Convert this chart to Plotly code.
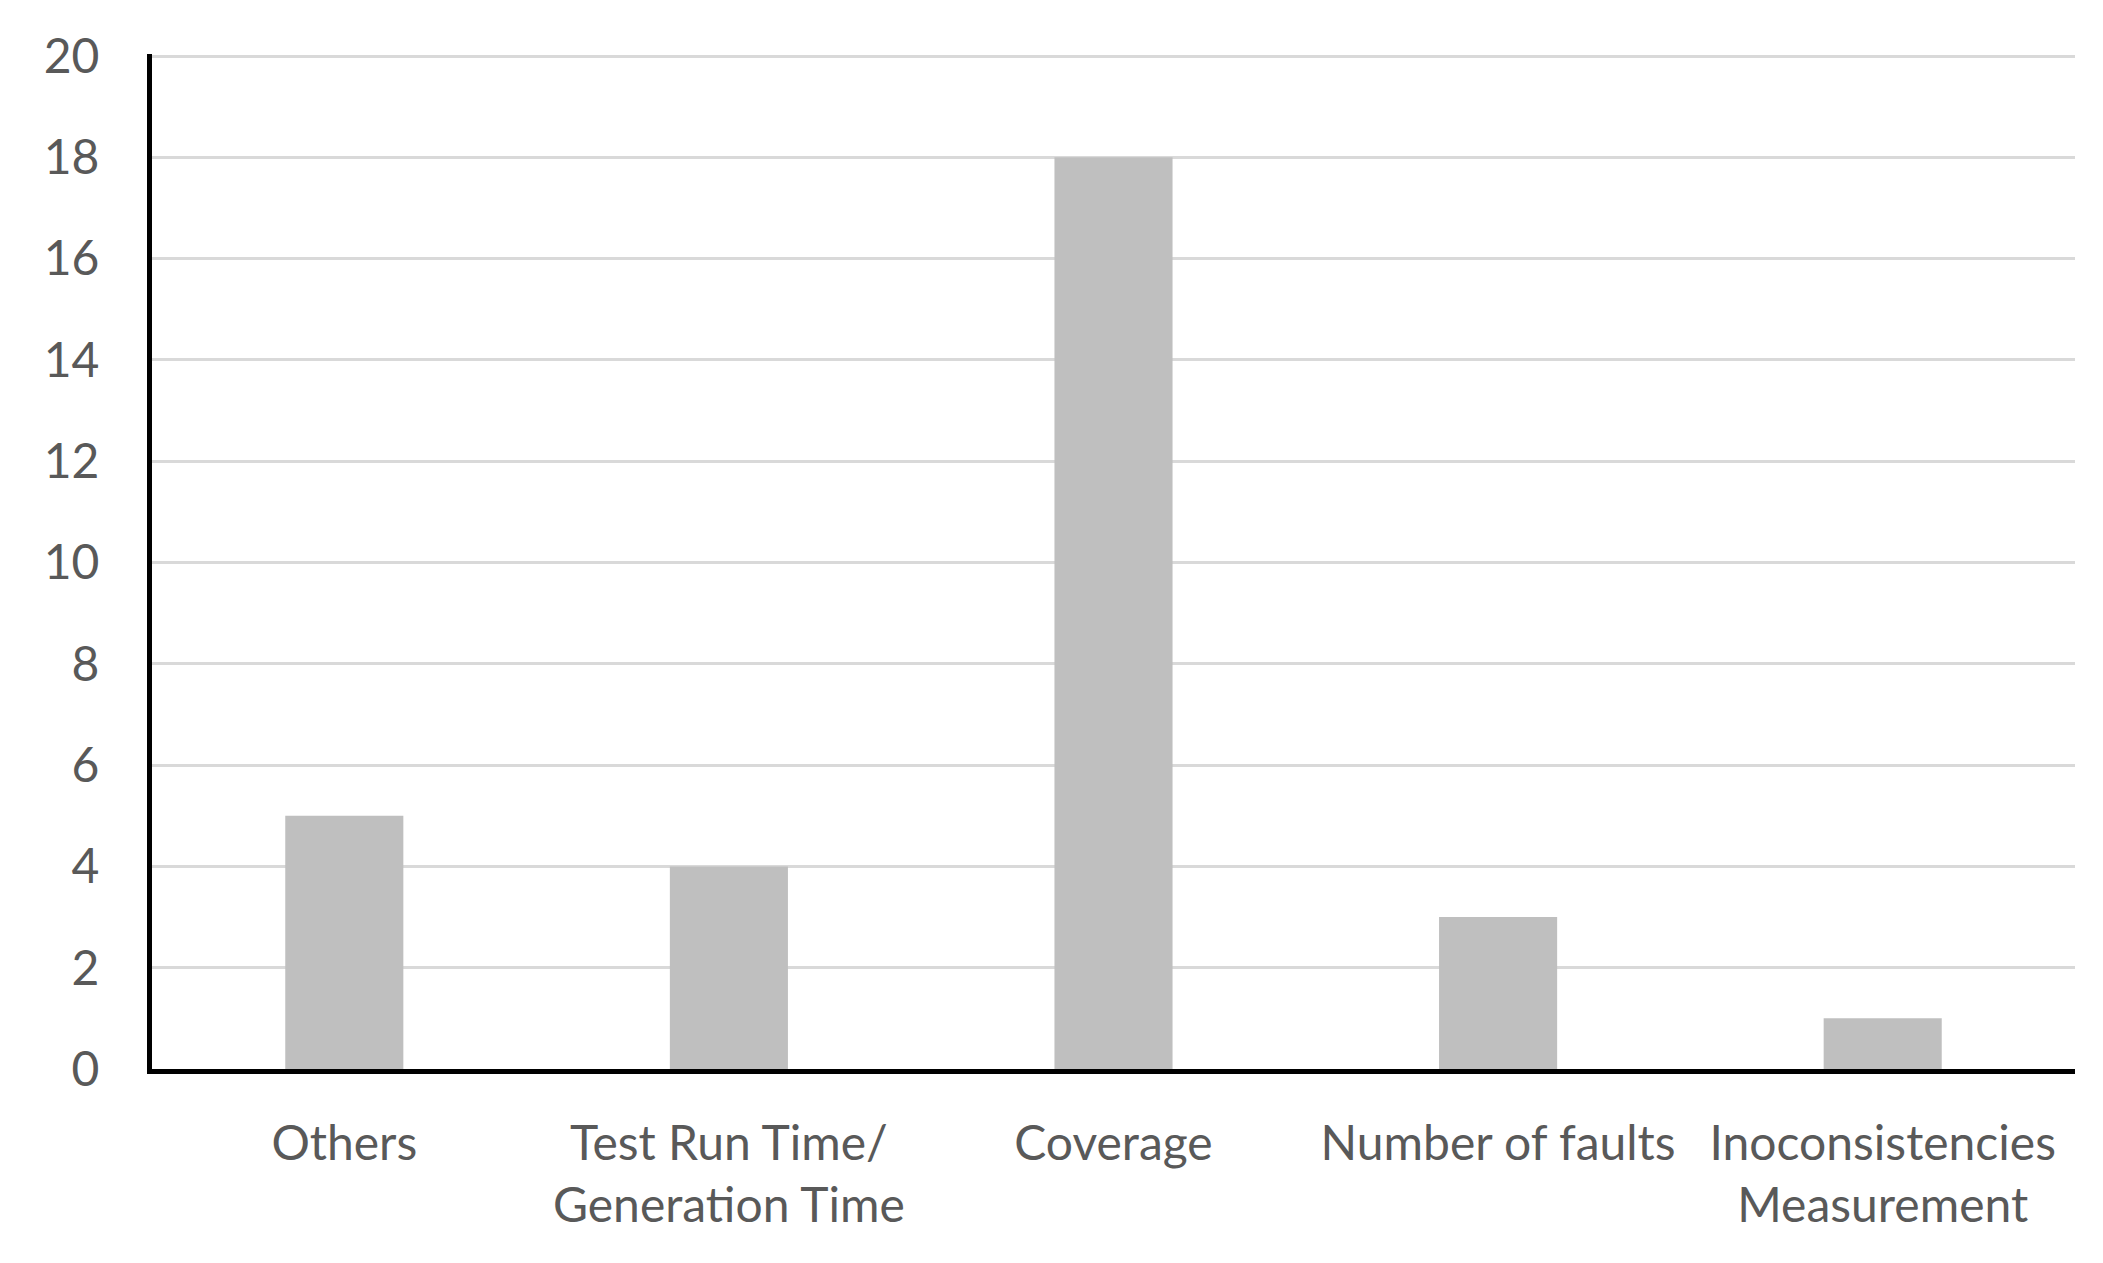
import plotly.graph_objects as go

categories = ["Others", "Test Run Time/<br>Generation Time", "Coverage",
              "Number of faults", "Inoconsistencies<br>Measurement"]
values = [5, 4, 18, 3, 1]
y_ticks = [0, 2, 4, 6, 8, 10, 12, 14, 16, 18, 20]

fig = go.Figure(go.Bar(x=categories, y=values, marker=dict(color="#BFBFBF", line=dict(width=0))))

fig.update_layout(
    width=2103, height=1263,
    margin=dict(l=144, r=36, t=46, b=202),
    plot_bgcolor="white", paper_bgcolor="white",
    bargap=0.693,
    font=dict(family="Lato", size=48, color="#595959"),
    showlegend=False,
)
fig.update_xaxes(
    showline=True, linecolor="black", linewidth=5,
    showgrid=False, ticks="", ticklabelstandoff=28,
    tickfont=dict(family="Lato", size=48, color="#595959"),
)
fig.update_yaxes(
    range=[0, 20.04], tickvals=y_ticks,
    showline=True, linecolor="black", linewidth=5,
    showgrid=True, gridcolor="#D9D9D9", gridwidth=3,
    zeroline=False, ticks="", ticklabelstandoff=38,
    tickfont=dict(family="Lato", size=48, color="#595959"),
)

fig.write_html("out.html")
